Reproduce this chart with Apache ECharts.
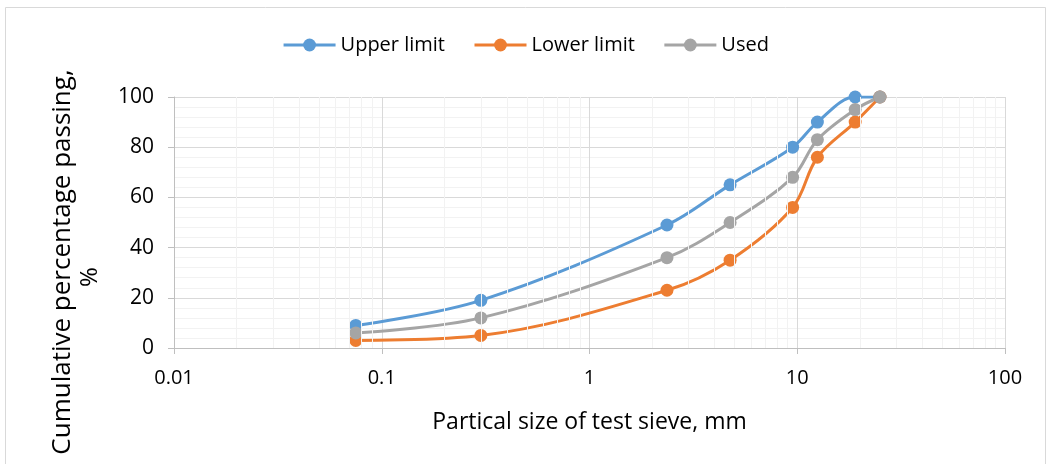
<!DOCTYPE html>
<html>
<head>
<meta charset="utf-8">
<script src="https://cdn.jsdelivr.net/npm/echarts@6/dist/echarts.min.js"></script>
<style>
  html, body { margin: 0; padding: 0; background: #fff; }
  #chart { width: 1051px; height: 464px; }
</style>
</head>
<body>
<div id="chart"></div>
<script>
// sieve sizes (mm) and cumulative passing (%)
const sieveSizes = [0.075, 0.3, 2.36, 4.75, 9.5, 12.5, 19, 25];
const upperLimit = [9, 19, 49, 65, 80, 90, 100, 100];
const lowerLimit = [3, 5, 23, 35, 56, 76, 90, 100];
const used = [6, 12, 36, 50, 68, 83, 95, 100];
const seriesNames = ['Upper limit', 'Lower limit', 'Used'];
const colors = ['#5B9BD5', '#ED7D31', '#A5A5A5'];

// minor vertical grid lines (2..9 in each decade)
const minorX = [];
for (let d = -2; d < 2; d++) {
    for (let k = 2; k <= 9; k++) {
        minorX.push(+(k * Math.pow(10, d)).toPrecision(3));
    }
}

const labelFont = 'Open Sans';

const chart = echarts.init(document.getElementById('chart'), null, { renderer: 'canvas' });

function pairs(ys) {
    return sieveSizes.map((x, i) => [x, ys[i]]);
}

function lineSeries(name, ys, color) {
    return {
        name: name,
        type: 'line',
        data: pairs(ys),
        smooth: 0.35,
        symbol: 'circle',
        symbolSize: 13,
        itemStyle: { color: color },
        lineStyle: { color: color, width: 3 },
        z: 3
    };
}

const option = {
    animation: false,
    color: colors,
    grid: { left: 174, right: 46, top: 97, bottom: 116 },
    legend: {
        top: 30,
        left: 'center',
        itemWidth: 52,
        itemHeight: 16,
        itemGap: 28,
        data: seriesNames,
        lineStyle: { width: 3 },
        textStyle: { fontFamily: labelFont, fontSize: 20, color: '#000' }
    },
    graphic: [
        {
            type: 'rect',
            shape: { x: 5.5, y: 7.5, width: 1040, height: 470 },
            style: { fill: 'none', stroke: '#d9d9d9', lineWidth: 1 },
            silent: true, z: -10
        },
        {
            type: 'text',
            x: 63, y: 262, rotation: Math.PI / 2,
            style: {
                text: 'Cumulative percentage passing,',
                fontFamily: 'Open Sans', fontSize: 26, fill: '#000',
                align: 'center', verticalAlign: 'middle'
            }
        },
        {
            type: 'text',
            x: 90, y: 277, rotation: Math.PI / 2,
            style: {
                text: '%',
                fontFamily: 'Open Sans', fontSize: 24, fill: '#000',
                align: 'center', verticalAlign: 'middle'
            }
        }
    ],
    xAxis: {
        type: 'log',
        logBase: 10,
        min: 0.01,
        max: 100,
        name: 'Partical size of test sieve, mm',
        nameLocation: 'middle',
        nameGap: 63,
        nameTextStyle: { fontFamily: labelFont, fontSize: 23, color: '#000' },
        axisLine: { lineStyle: { color: '#bfbfbf', width: 1 } },
        axisTick: { show: true, length: 6, lineStyle: { color: '#bfbfbf' } },
        axisLabel: {
            fontFamily: labelFont, fontSize: 20, color: '#000', margin: 20,
            formatter: v => String(+(+v).toPrecision(3))
        },
        splitLine: { show: true, lineStyle: { color: '#d9d9d9', width: 1 } }
    },
    yAxis: {
        type: 'value',
        min: 0,
        max: 100,
        interval: 20,
        axisLine: { show: true, lineStyle: { color: '#bfbfbf', width: 1 } },
        axisTick: { show: true, length: 6, lineStyle: { color: '#bfbfbf' } },
        axisLabel: { fontFamily: labelFont, fontSize: 21, color: '#000', margin: 20 },
        splitLine: { show: true, lineStyle: { color: '#d9d9d9', width: 1 } },
        minorTick: { show: false, splitNumber: 5 },
        minorSplitLine: { show: true, lineStyle: { color: '#f2f2f2', width: 1 } }
    },
    series: [
        {
            name: 'minor-grid',
            type: 'line',
            data: [],
            silent: true,
            z: 1,
            markLine: {
                silent: true,
                symbol: 'none',
                label: { show: false },
                lineStyle: { color: '#f2f2f2', width: 1, type: 'solid' },
                data: minorX.map(x => ({ xAxis: x }))
            }
        },
        lineSeries(seriesNames[0], upperLimit, colors[0]),
        lineSeries(seriesNames[1], lowerLimit, colors[1]),
        lineSeries(seriesNames[2], used, colors[2])
    ]
};

chart.setOption(option);
</script>
</body>
</html>
